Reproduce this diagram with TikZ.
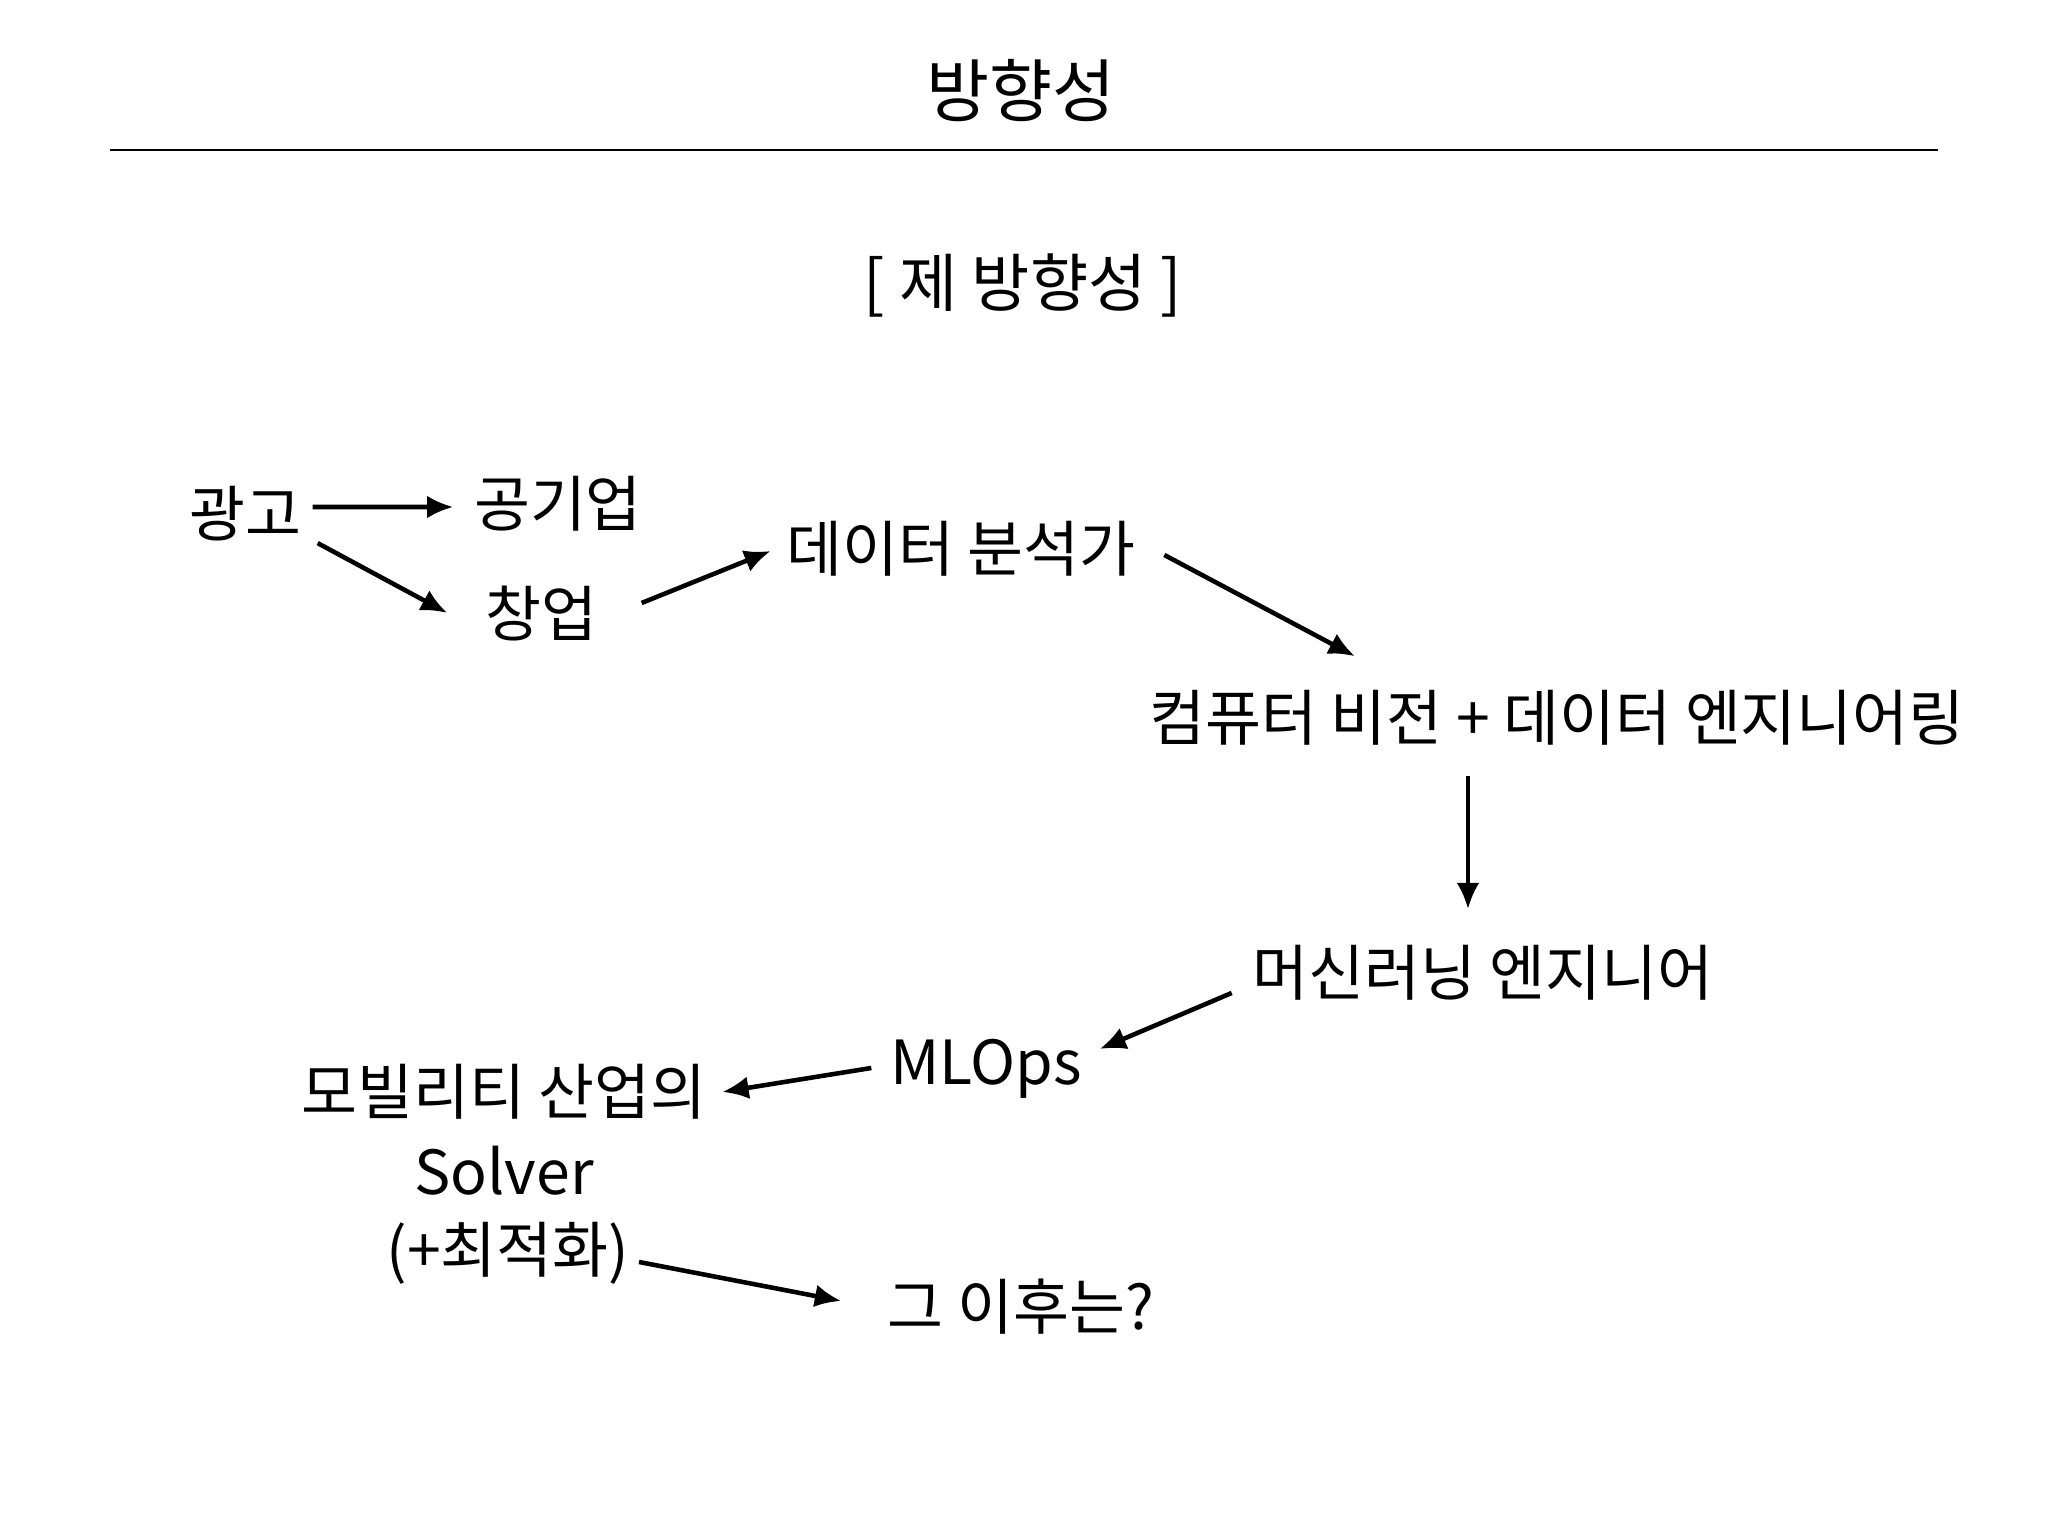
\documentclass[tikz,border=0pt]{standalone}
\usepackage{fontspec}
\setmainfont{Noto Sans CJK KR}
\usetikzlibrary{arrows.meta, positioning}

\begin{document}
\begin{tikzpicture}[
    lbl/.style={inner sep=0pt, font=\fontsize{17.3}{20}\selectfont, text height=14pt, text depth=1.6pt, align=center},
    arr/.style={-{Latex[length=7.5pt, width=6.5pt]}, line width=1.3pt}
  ]
    \useasboundingbox (0,0) rectangle (20.48,15.36);

    \node[inner sep=0pt, font=\fontsize{19.5}{23}\selectfont] (title) at (10.21,14.45) {방향성};
    \draw[line width=0.6pt] (1.10,13.86) -- (19.38,13.86);
    \node[lbl, font=\fontsize{18}{21}\selectfont] (sub) at (10.23,12.51) {[ 제 방향성 ]};

    \node[lbl] (gwang) at (2.45,10.21) {광고};
    \node[lbl] (gong) at (5.58,10.31) {공기업};
    \node[lbl] (chang) at (5.41,9.21) {창업};
    \node[lbl] (data) at (9.61,9.86) {데이터 분석가};
    \node[lbl] (cv) at (15.57,8.17) {컴퓨터 비전 + 데이터 엔지니어링};
    \node[lbl] (ml) at (14.83,5.62) {머신러닝 엔지니어};
    \node[lbl] (mlops) at (9.86,4.73) {MLOps};
    \node[lbl] (mob) at (5.04,4.43) {모빌리티 산업의};
    \node[lbl] (solver) at (5.04,3.63) {Solver};
    \node[lbl] (opt) at (5.08,2.85) {(+최적화)};
    \node[lbl] (after) at (10.21,2.28) {그 이후는?};

    \draw[arr] ([shift={(0.11,0.08)}]gwang.east) -- ([shift={(-0.20,-0.02)}]gong.west);
    \draw[arr] ([shift={(0.16,0)}]gwang.south east) -- ([shift={(-0.37,0.02)}]chang.west);
    \draw[arr] ([shift={(0.44,0.12)}]chang.east) -- ([shift={(-0.15,-0.01)}]data.west);
    \draw[arr] ([shift={(0.28,-0.05)}]data.east) -- ([shift={(-2.02,0.346)}]cv.north);
    \draw[arr] ([shift={(-0.89,-0.286)}]cv.south) -- ([shift={(-0.15,0.366)}]ml.north);
    \draw[arr] ([shift={(-0.20,-0.19)}]ml.west) -- ([shift={(0.17,0.14)}]mlops.east);
    \draw[arr] ([shift={(-0.18,-0.05)}]mlops.west) -- ([shift={(0.15,0.01)}]mob.east);
    \draw[arr] ([shift={(0.09,-0.11)}]opt.east) -- ([shift={(-0.46,0.07)}]after.west);
  \end{tikzpicture}
\end{document}
